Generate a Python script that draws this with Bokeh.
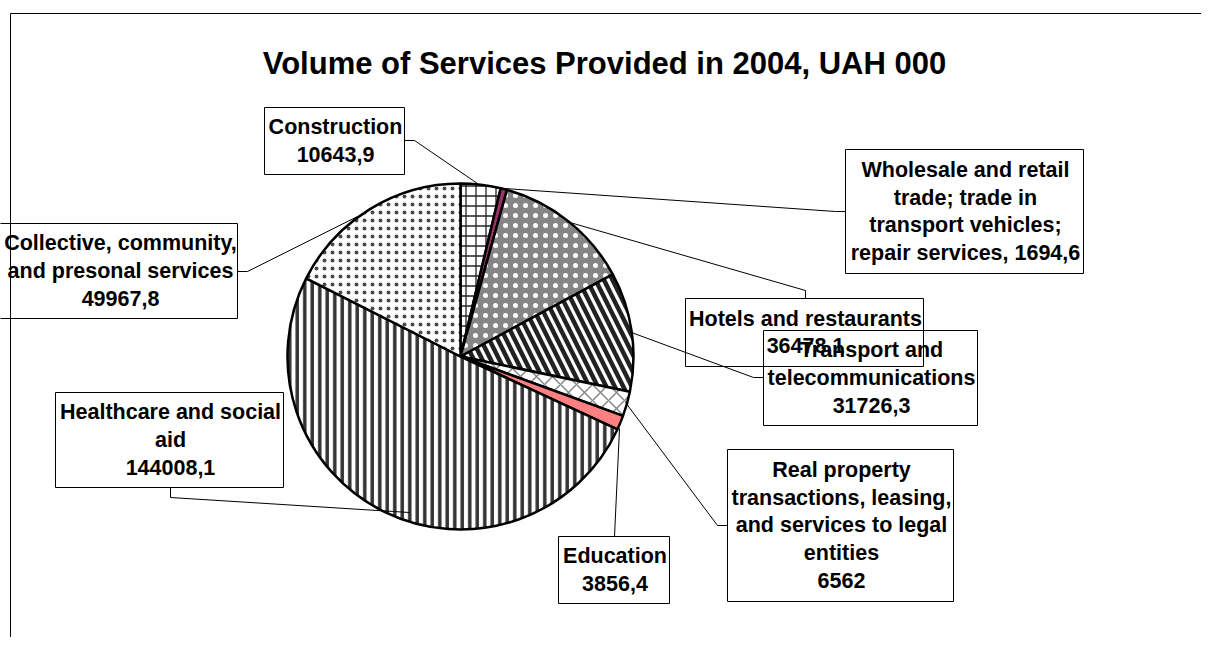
import numpy as np
from bokeh.plotting import figure
from bokeh.models import Range1d
from bokeh.core.properties import value
from bokeh.embed import file_html
from bokeh.resources import INLINE

# ---------------- data ----------------
title = "Volume of Services Provided in 2004, UAH 000"
categories = [
    "Construction",
    "Wholesale and retail\ntrade; trade in\ntransport vehicles;\nrepair services,",
    "Hotels and restaurants",
    "Transport and\ntelecommunications",
    "Real property\ntransactions, leasing,\nand services to legal\nentities",
    "Education",
    "Healthcare and social\naid",
    "Collective, community,\nand presonal services",
]
values = [10643.9, 1694.6, 36478.1, 31726.3, 6562.0, 3856.4, 144008.1, 49967.8]
value_sep = ["\n", " ", "\n", "\n", "\n", "\n", "\n", "\n"]


def fmt(v):
    s = f"{v:.1f}".replace(".", ",")
    if s.endswith(",0"):
        s = s[:-2]
    return s


labels = [c + sep + fmt(v) for c, sep, v in zip(categories, value_sep, values)]

# ---------------- layout (image pixel coords) ----------------
W, H = 1201, 637
def X(x):
    return x
def Y(y):
    return H - y

p = figure(width=W, height=H, x_range=Range1d(0, W), y_range=Range1d(0, H),
           output_backend="svg", toolbar_location=None,
           x_axis_type=None, y_axis_type=None, min_border=0)
p.outline_line_color = None
p.background_fill_color = "white"
p.border_fill_color = "white"

FONT = value("Liberation Sans")

# title
p.text(x=[X(604)], y=[Y(63)], text=[title], text_font=FONT, text_font_style="bold",
       text_font_size="31px", text_align="center", text_baseline="alphabetic",
       text_color="black")

# pie
cx, cy, R = X(460), Y(356), 173
total = sum(values)
frac = np.array(values) / total
cum = np.concatenate([[0.0], np.cumsum(frac)])
starts = np.pi / 2 - cum[:-1] * 2 * np.pi
ends = np.pi / 2 - cum[1:] * 2 * np.pi

styles = [
    dict(fill_color="white", hatch_pattern="cross", hatch_color="#222222", hatch_scale=10, hatch_weight=1.3),
    dict(fill_color="#993366"),
    dict(fill_color="#858585", hatch_pattern="dot", hatch_color="white", hatch_scale=10, hatch_weight=1.5),
    dict(fill_color="white", hatch_pattern="left_diagonal_line", hatch_color="#222222", hatch_scale=17, hatch_weight=4.5),
    dict(fill_color="white", hatch_pattern="diagonal_cross", hatch_color="#888888", hatch_scale=16, hatch_weight=1.5),
    dict(fill_color="#ff8080"),
    dict(fill_color="white", hatch_pattern="vertical_line", hatch_color="#333333", hatch_scale=7.5, hatch_weight=3.5),
    dict(fill_color="white", hatch_pattern="dot", hatch_color="#4a4a4a", hatch_scale=8, hatch_weight=4),
]
for i in range(len(values)):
    p.wedge(x=cx, y=cy, radius=R, start_angle=starts[i], end_angle=ends[i],
            direction="clock", line_color="black", line_width=2.5, **styles[i])

# label boxes (left, top, right, bottom)
boxes = [
    (264, 107, 404, 174),
    (845, 149, 1083, 273),
    (685, 298, 923, 366),
    (763, 330, 977, 425),
    (727, 449, 953, 601),
    (558, 536, 669, 603),
    (55, 392, 283, 487),
    (-3, 223, 237, 318),
]
leaders = [
    [(404, 140), (414, 140), (477, 183)],
    [(845, 211), (835, 211), (504, 188)],
    [(805, 298), (805, 290), (566, 221)],
    [(763, 377), (753, 377), (631, 332)],
    [(727, 525), (717, 525), (625, 402)],
    [(614, 536), (619, 428)],
    [(170, 487), (170, 497), (409, 512)],
    [(237, 271), (247, 271), (357, 216)],
]
for pts in leaders:
    p.line([X(q[0]) for q in pts], [Y(q[1]) for q in pts], line_color="black", line_width=1)

for (l, t, r, b), lab in zip(boxes, labels):
    p.quad(left=X(l), right=X(r), top=Y(t), bottom=Y(b), fill_alpha=0,
           line_color="black", line_width=1)
    p.text(x=[X(max((l + r) / 2 + 1, 120))], y=[Y((t + b) / 2)], text=[lab], text_font=FONT,
           text_font_style="bold", text_font_size="21.5px", text_align="center",
           text_baseline="middle", text_line_height=1.15, text_color="black")

# chart area border
p.line([X(10), X(10), X(1215)], [Y(650), Y(13), Y(13)], line_color="black", line_width=1)

open("out.html", "w").write(file_html(p, INLINE))
